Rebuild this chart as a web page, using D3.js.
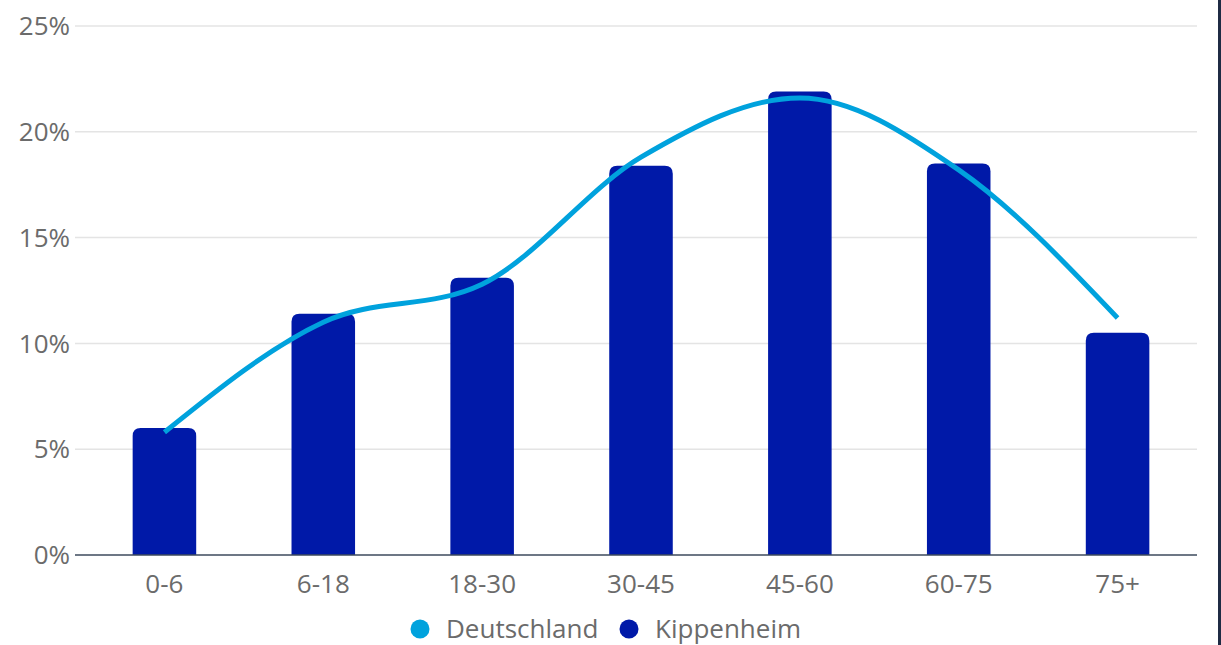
<!DOCTYPE html>
<html>
<head>
<meta charset="utf-8">
<script src="https://cdn.jsdelivr.net/npm/d3@7"></script>
<style>
  html, body { margin: 0; padding: 0; background: #fff; }
  svg { display: block; font-family: "Open Sans", sans-serif; }
</style>
</head>
<body>
<svg id="chart" width="1221" height="645"></svg>
<script>
// Altersgruppen und Anteile (in %)
const categories = ["0-6", "6-18", "18-30", "30-45", "45-60", "60-75", "75+"];
const kippenheim = [6.0, 11.4, 13.1, 18.4, 21.9, 18.5, 10.5];
const deutschland = [5.8, 11.0, 12.8, 18.8, 21.6, 18.2, 11.2];
const yTicks = [0, 5, 10, 15, 20, 25];
const seriesNames = ["Deutschland", "Kippenheim"];

const colors = { Deutschland: "#00a2dd", Kippenheim: "#0019a8" };
const textColor = "#6b6b6b";
const fontSize = 26;

const svg = d3.select("#chart");
const W = 1221, H = 645;
const plotLeft = 75, plotRight = 1197, plotTop = 26, plotBottom = 555;

const x = d3.scaleBand().domain(categories).range([85, 1197]).paddingInner(0.6).paddingOuter(0.3);
const y = d3.scaleLinear().domain([0, 25]).range([plotBottom, plotTop]);

// Gitterlinien
svg.append("g").selectAll("line").data(yTicks.filter(t => t > 0)).join("line")
  .attr("x1", plotLeft).attr("x2", plotRight)
  .attr("y1", d => y(d)).attr("y2", d => y(d))
  .attr("stroke", "#e4e4e4").attr("stroke-width", 1.5);

// Y-Achsenbeschriftung
svg.append("g").selectAll("text").data(yTicks).join("text")
  .attr("x", 70).attr("y", d => y(d)).attr("dy", "0.35em")
  .attr("text-anchor", "end").attr("fill", textColor).attr("font-size", fontSize)
  .text(d => d + "%");

// Balken mit abgerundeten oberen Ecken
const r = 8;
function barPath(d, i) {
  const x0 = x(categories[i]), w = x.bandwidth();
  const yt = y(d), yb = y(0);
  return `M${x0},${yb}V${yt + r}Q${x0},${yt} ${x0 + r},${yt}H${x0 + w - r}Q${x0 + w},${yt} ${x0 + w},${yt + r}V${yb}Z`;
}
svg.append("g").selectAll("path").data(kippenheim).join("path")
  .attr("d", (d, i) => barPath(d, i))
  .attr("fill", colors.Kippenheim);

// Grundlinie
svg.append("line").attr("x1", plotLeft).attr("x2", plotRight)
  .attr("y1", plotBottom).attr("y2", plotBottom)
  .attr("stroke", "#3d4a5c").attr("stroke-width", 1.5);

// X-Achsenbeschriftung
svg.append("g").selectAll("text").data(categories).join("text")
  .attr("x", d => x(d) + x.bandwidth() / 2).attr("y", 593)
  .attr("text-anchor", "middle").attr("fill", textColor).attr("font-size", fontSize)
  .text(d => d);

// Linie Deutschland
const line = d3.line()
  .x((d, i) => x(categories[i]) + x.bandwidth() / 2)
  .y(d => y(d))
  .curve(d3.curveMonotoneX);
svg.append("path").datum(deutschland)
  .attr("d", line).attr("fill", "none")
  .attr("stroke", colors.Deutschland).attr("stroke-width", 5);

// Legende
const legend = svg.append("g");
const legendPos = [{ cx: 420, tx: 446 }, { cx: 629, tx: 655 }];
const legendY = 629;
seriesNames.forEach((name, i) => {
  legend.append("circle").attr("cx", legendPos[i].cx).attr("cy", legendY).attr("r", 9.5)
    .attr("fill", colors[name]);
  legend.append("text").attr("x", legendPos[i].tx).attr("y", legendY).attr("dy", "0.35em")
    .attr("fill", textColor).attr("font-size", fontSize).text(name);
});

// Rechter Rand
svg.append("rect").attr("x", 1218).attr("y", 0).attr("width", 3).attr("height", H)
  .attr("fill", "#1f2b44");
</script>
</body>
</html>
